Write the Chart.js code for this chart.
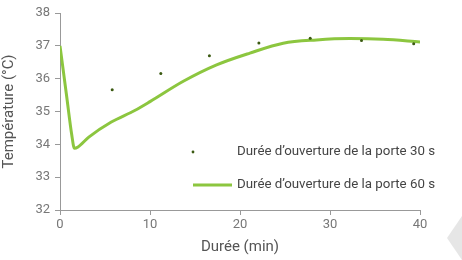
<!DOCTYPE html>
<html lang="fr">
<head>
    <meta charset="UTF-8">
    <script src="https://cdn.jsdelivr.net/npm/chart.js"></script>
    <title>Température selon la durée d'ouverture de la porte</title>
    <style>
        html, body { margin: 0; padding: 0; background: #fff; }
        #wrap { position: relative; width: 462px; height: 260px; }
        #temp-chart { width: 462px; height: 260px; }
        #corner {
            position: absolute; left: 447px; top: 216px; width: 15px; height: 44px;
            background: #e6e6e6; clip-path: polygon(0 50%, 100% 0, 100% 100%);
        }
    </style>
</head>
<body>
<div id="wrap">
    <canvas id="temp-chart" width="462" height="260"></canvas>
    <div id="corner"></div>
</div>
<script>
    // porte ouverte 30 s (points)
    const minutes30 = [5.8, 11.2, 16.6, 22.1, 27.8, 33.5, 39.3];
    const temp30 = [35.66, 36.16, 36.70, 37.09, 37.23, 37.16, 37.06];

    // porte ouverte 60 s (courbe)
    const minutes60 = [0, 0.75, 1.3, 1.6, 2, 3.2, 5.7, 8.3, 10, 13.7, 17.4, 21.1, 24.8, 28.5, 32.2, 35.9, 40];
    const temp60 = [37.0, 35.44, 34.3, 33.88, 33.92, 34.22, 34.68, 35.03, 35.30, 35.92, 36.42, 36.78, 37.08, 37.18, 37.22, 37.20, 37.12];

    const xTicks = [0, 10, 20, 30, 40];
    const yTicks = [32, 33, 34, 35, 36, 37, 38];

    const labels = ['Durée d\u2019ouverture de la porte 30 s', 'Durée d\u2019ouverture de la porte 60 s'];

    const FONT = 'Roboto';

    // légende dessinée dans la zone du graphique
    const innerLegend = {
        id: 'innerLegend',
        afterDraw(chart) {
            const c = chart.ctx;
            const ds = chart.data.datasets;
            c.save();
            c.font = '13.3px ' + FONT;
            c.textBaseline = 'middle';
            // 30 s
            c.beginPath();
            c.arc(193, 152, 1.4, 0, Math.PI * 2);
            c.fillStyle = ds[0].backgroundColor;
            c.fill();
            c.fillStyle = '#444';
            c.fillText(ds[0].label, 237, 152);
            // 60 s
            c.strokeStyle = ds[1].borderColor;
            c.lineWidth = 3;
            c.beginPath();
            c.moveTo(193, 185);
            c.lineTo(232, 185);
            c.stroke();
            c.fillText(ds[1].label, 237, 185);
            c.restore();
        }
    };

    new Chart(document.getElementById('temp-chart'), {
        type: 'scatter',
        data: {
            datasets: [
                {
                    label: labels[0],
                    data: minutes30.map((m, i) => ({ x: m, y: temp30[i] })),
                    backgroundColor: '#3b5a12',
                    borderColor: '#3b5a12',
                    borderWidth: 0,
                    pointRadius: 1.5,
                    showLine: false
                },
                {
                    label: labels[1],
                    data: minutes60.map((m, i) => ({ x: m, y: temp60[i] })),
                    borderColor: '#8cc63f',
                    backgroundColor: '#8cc63f',
                    borderWidth: 3,
                    pointRadius: 0,
                    showLine: true,
                    cubicInterpolationMode: 'monotone'
                }
            ]
        },
        options: {
            responsive: false,
            animation: false,
            layout: { padding: { top: 13, right: 42, left: 0, bottom: 0 } },
            plugins: {
                legend: { display: false },
                tooltip: { enabled: false }
            },
            scales: {
                x: {
                    type: 'linear',
                    min: 0, max: 40,
                    afterBuildTicks: (axis) => { axis.ticks = xTicks.map(v => ({ value: v })); },
                    afterFit: (axis) => { axis.height = 50; },
                    grid: { display: true, drawOnChartArea: false, drawTicks: true, tickLength: 5, color: '#999' },
                    border: { color: '#999' },
                    ticks: { color: '#777', font: { family: FONT, size: 13 }, padding: 2 },
                    title: { display: true, text: 'Durée (min)', color: '#555', font: { family: FONT, size: 15 }, padding: { top: 0 } }
                },
                y: {
                    min: 32, max: 38,
                    afterBuildTicks: (axis) => { axis.ticks = yTicks.map(v => ({ value: v })); },
                    afterFit: (axis) => { axis.width = 60; },
                    grid: { display: true, drawOnChartArea: false, drawTicks: true, tickLength: 5, color: '#999' },
                    border: { color: '#999' },
                    ticks: { color: '#777', font: { family: FONT, size: 13 }, padding: 5 },
                    title: { display: true, text: 'Température (°C)', color: '#555', font: { family: FONT, size: 15 }, padding: 0 }
                }
            }
        },
        plugins: [innerLegend]
    });
</script>
</body>
</html>
